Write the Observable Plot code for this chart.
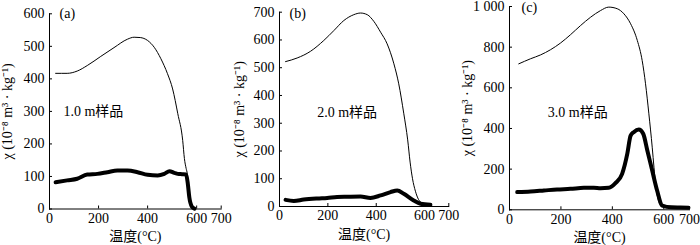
<!DOCTYPE html>
<html><head><meta charset="utf-8">
<script src="https://cdn.jsdelivr.net/npm/d3@7"></script>
<script src="https://cdn.jsdelivr.net/npm/@observablehq/plot@0.6"></script>
<style>
html,body{margin:0;padding:0;background:#fff;}
#wrap{position:relative;width:700px;height:245px;overflow:hidden;background:#fff;}
#wrap svg{position:absolute;top:0;}
</style></head><body><div id="wrap"></div>
<script>
// ---- text & ticks ----
const tempTicks = [0, 200, 400, 600, 700];
const panelLetters = ["(a)", "(b)", "(c)"];
const sampleLabels = ["1.0 m样品", "2.0 m样品", "3.0 m样品"];
const xLabel = "温度(°C)";
const yLabel = "χ (10⁻⁸ m³ · kg⁻¹)";
const yTicksA = [0, 100, 200, 300, 400, 500, 600];
const yTicksB = [0, 100, 200, 300, 400, 500, 600, 700];
const yTicksC = [0, 200, 400, 600, 800, 1000];

// ---- panel (a) 1.0 m ----
const coolTempA = [25, 72, 113, 154, 209, 263, 318, 345, 370, 400, 427, 454, 481, 502, 523, 543, 550, 557, 562, 570, 580];
const coolChiA  = [417, 417, 424, 441, 469, 496, 522, 528, 527, 518, 497, 462, 416, 369, 293, 211, 155, 125, 108, 45, 8];
const heatTempA = [25, 72, 113, 154, 195, 236, 277, 318, 359, 400, 441, 468, 489, 509, 523, 540, 557, 564, 570, 580, 591];
const heatChiA  = [82, 88, 93, 106, 108, 113, 118, 118, 113, 105, 103, 108, 116, 111, 108, 107, 106, 77, 36, 8, 1];

// ---- panel (b) 2.0 m ----
const coolTempB = [25, 73, 128, 183, 225, 266, 307, 335, 363, 390, 418, 445, 473, 493, 514, 530, 540, 550, 562, 575, 590, 600];
const coolChiB  = [522, 535, 559, 598, 634, 670, 691, 697, 691, 667, 628, 586, 514, 442, 334, 240, 160, 100, 55, 25, 12, 8];
const heatTempB = [25, 59, 100, 156, 197, 238, 280, 335, 376, 418, 459, 487, 514, 555, 583, 624];
const heatChiB  = [24, 20, 25, 29, 31, 34, 35, 36, 31, 40, 52, 58, 46, 22, 10, 6];

// ---- panel (c) 3.0 m ----
const coolTempC = [36, 82, 121, 159, 198, 237, 276, 315, 354, 386, 419, 445, 471, 497, 516, 529, 542, 555, 562, 568, 578, 590];
const coolChiC  = [718, 743, 762, 787, 820, 861, 906, 947, 980, 997, 989, 964, 915, 833, 734, 620, 472, 308, 207, 130, 50, 15];
const heatTempC = [30, 82, 134, 185, 237, 289, 328, 354, 386, 412, 438, 458, 471, 483, 503, 520, 536, 555, 574, 594, 630, 665, 696];
const heatChiC  = [87, 90, 95, 100, 103, 108, 108, 106, 108, 131, 177, 275, 365, 382, 395, 374, 292, 193, 95, 21, 12, 11, 10];

const FONT = '"Liberation Serif", "Times New Roman", "Noto Sans CJK SC", serif';
const fmt = d3.formatLocale({thousands: " ", grouping: [3], decimal: "."}).format(",");
const pts = (t, v) => t.map((d, i) => ({t: d, v: v[i]}));
const TICK = 3;

function panel(o) {
  const H = 245;
  const plotH = H - o.marginTop - o.marginBottom;
  const plotW = o.width - 49 - o.marginRight;
  const svg = Plot.plot({
    width: o.width, height: H,
    marginLeft: 49, marginRight: o.marginRight, marginTop: o.marginTop, marginBottom: o.marginBottom,
    style: {fontFamily: FONT, fontSize: "14px", background: "transparent", color: "#000", overflow: "visible"},
    x: {domain: [0, 700]},
    y: {domain: o.yDomain},
    marks: [
      Plot.frame({anchor: "left"}),
      Plot.frame({anchor: "bottom"}),
      // inward tick marks
      Plot.tickX(tempTicks, {x: d => d, insetTop: plotH - TICK, stroke: "#000"}),
      Plot.tickY(o.yTicks, {y: d => d, insetRight: plotW - TICK, stroke: "#000"}),
      Plot.axisX(tempTicks, {tickSize: 0, tickPadding: 4, label: xLabel, labelArrow: "none", labelAnchor: "center", labelOffset: 32}),
      Plot.axisY(o.yTicks, {tickSize: 0, tickPadding: 5, tickFormat: fmt, label: yLabel, labelArrow: "none", labelAnchor: "center", labelOffset: o.yLabelOffset}),
      Plot.line(o.cool, {x: "t", y: "v", stroke: "#000", strokeWidth: 1, curve: "monotone-x"}),
      Plot.line(o.heat, {x: "t", y: "v", stroke: "#000", strokeWidth: 4, curve: "monotone-x"}),
      Plot.text([o.letter], {frameAnchor: "top-left", dx: o.letterDx, dy: o.letterDy, textAnchor: "start", lineAnchor: "middle"}),
      Plot.text([o.sample], {x: () => o.sampleT, y: () => o.sampleV, textAnchor: "start", lineAnchor: "middle"})
    ]
  });
  svg.style.left = o.left + "px";
  document.getElementById("wrap").appendChild(svg);
}

panel({left: 0, width: 240, marginRight: 19.3, marginTop: 13.3, marginBottom: 36.5,
  yDomain: [0, 600], yTicks: yTicksA, yLabelOffset: 47,
  cool: pts(coolTempA, coolChiA), heat: pts(heatTempA, heatChiA),
  letter: panelLetters[0], letterDx: 10, letterDy: 0,
  sample: sampleLabels[0], sampleT: 57, sampleV: 300});

panel({left: 230, width: 240, marginRight: 21.7, marginTop: 11.7, marginBottom: 39,
  yDomain: [0, 700], yTicks: yTicksB, yLabelOffset: 45,
  cool: pts(coolTempB, coolChiB), heat: pts(heatTempB, heatChiB),
  letter: panelLetters[1], letterDx: 10, letterDy: 1,
  sample: sampleLabels[1], sampleT: 156, sampleV: 340});

panel({left: 460, width: 240, marginRight: 11, marginTop: 6, marginBottom: 35.7,
  yDomain: [0, 1000], yTicks: yTicksC, yLabelOffset: 47,
  cool: pts(coolTempC, coolChiC), heat: pts(heatTempC, heatChiC),
  letter: panelLetters[2], letterDx: 12, letterDy: 1,
  sample: sampleLabels[2], sampleT: 149, sampleV: 480});
</script></body></html>
